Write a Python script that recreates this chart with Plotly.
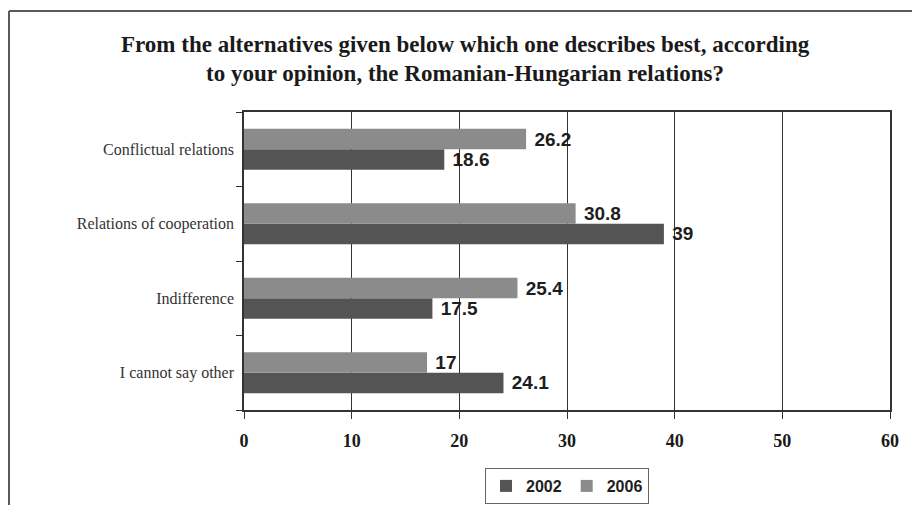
import plotly.graph_objects as go

# Survey answers, listed bottom-to-top as they appear on the category axis
categories = ["I cannot say other", "Indifference", "Relations of cooperation", "Conflictual relations"]
values_2002 = [24.1, 17.5, 39, 18.6]
values_2006 = [17, 25.4, 30.8, 26.2]
x_ticks = [0, 10, 20, 30, 40, 50, 60]

title_lines = ["From the alternatives given below which one describes best, according",
               "to your opinion, the Romanian-Hungarian relations?"]

label_font = dict(family="Liberation Sans, Arial, sans-serif", size=19,
                  color="#1e1e1e", weight="bold")

fig = go.Figure()
fig.add_trace(go.Bar(
    name="2002", y=categories, x=values_2002, orientation="h",
    marker=dict(color="#545454", line=dict(width=0)),
    text=[f" {v:g}" for v in values_2002], textposition="outside",
    textfont=label_font, cliponaxis=False, constraintext="none",
))
fig.add_trace(go.Bar(
    name="2006", y=categories, x=values_2006, orientation="h",
    marker=dict(color="#8b8b8b", line=dict(width=0)),
    text=[f" {v:g}" for v in values_2006], textposition="outside",
    textfont=label_font, cliponaxis=False, constraintext="none",
))

W, H = 912, 505
L, R, T, B = 244, 22, 112, 95
pw, ph = W - L - R, H - T - B

def px_x(p):
    return (p - L) / pw

def px_y(p):
    return (H - B - p) / ph

# Outer chart border (top and left edges)
frame = dict(color="#5a5a5a", width=2)
fig.add_shape(type="line", xref="paper", yref="paper",
              x0=px_x(9), x1=px_x(920), y0=px_y(11), y1=px_y(11), line=frame)
fig.add_shape(type="line", xref="paper", yref="paper",
              x0=px_x(9), x1=px_x(9), y0=px_y(11), y1=px_y(515), line=frame)

# Two-line bold title
for line, y_px in zip(title_lines, [45, 73]):
    fig.add_annotation(text=line, xref="paper", yref="paper",
                       x=px_x(465), y=px_y(y_px), xanchor="center", yanchor="middle",
                       showarrow=False,
                       font=dict(family="Liberation Serif, Times New Roman, serif",
                                 size=23, color="#1a1a1a", weight="bold"))

fig.update_layout(
    width=W, height=H,
    margin=dict(l=L, r=R, t=T, b=B, autoexpand=False),
    paper_bgcolor="white", plot_bgcolor="white",
    barmode="group", bargap=0.45, bargroupgap=0,
    showlegend=True,
    legend=dict(orientation="h", x=0.5, xanchor="center",
                y=px_y(468), yanchor="top",
                bordercolor="#666666", borderwidth=1,
                font=dict(family="Liberation Sans, Arial, sans-serif", size=16,
                          color="#1e1e1e", weight="bold"),
                itemwidth=30, traceorder="normal"),
    xaxis=dict(range=[0, 60], tickvals=x_ticks, ticks="outside", ticklen=7,
               tickcolor="#333333", showgrid=True, gridcolor="#333333", gridwidth=1.2,
               showline=True, linecolor="#333333", linewidth=1.5, mirror=True,
               zeroline=False, ticklabelstandoff=7,
               tickfont=dict(family="Liberation Serif, Times New Roman, serif",
                             size=18, color="#1a1a1a", weight="bold")),
    yaxis=dict(categoryorder="array", categoryarray=categories,
               ticks="outside", ticklen=6, tickcolor="#333333",
               tickson="boundaries", showgrid=False,
               showline=True, linecolor="#333333", linewidth=1.5, mirror=True,
               ticklabelstandoff=5,
               tickfont=dict(family="Liberation Serif, Times New Roman, serif",
                             size=16, color="#333333")),
)

fig.write_html("out.html")
